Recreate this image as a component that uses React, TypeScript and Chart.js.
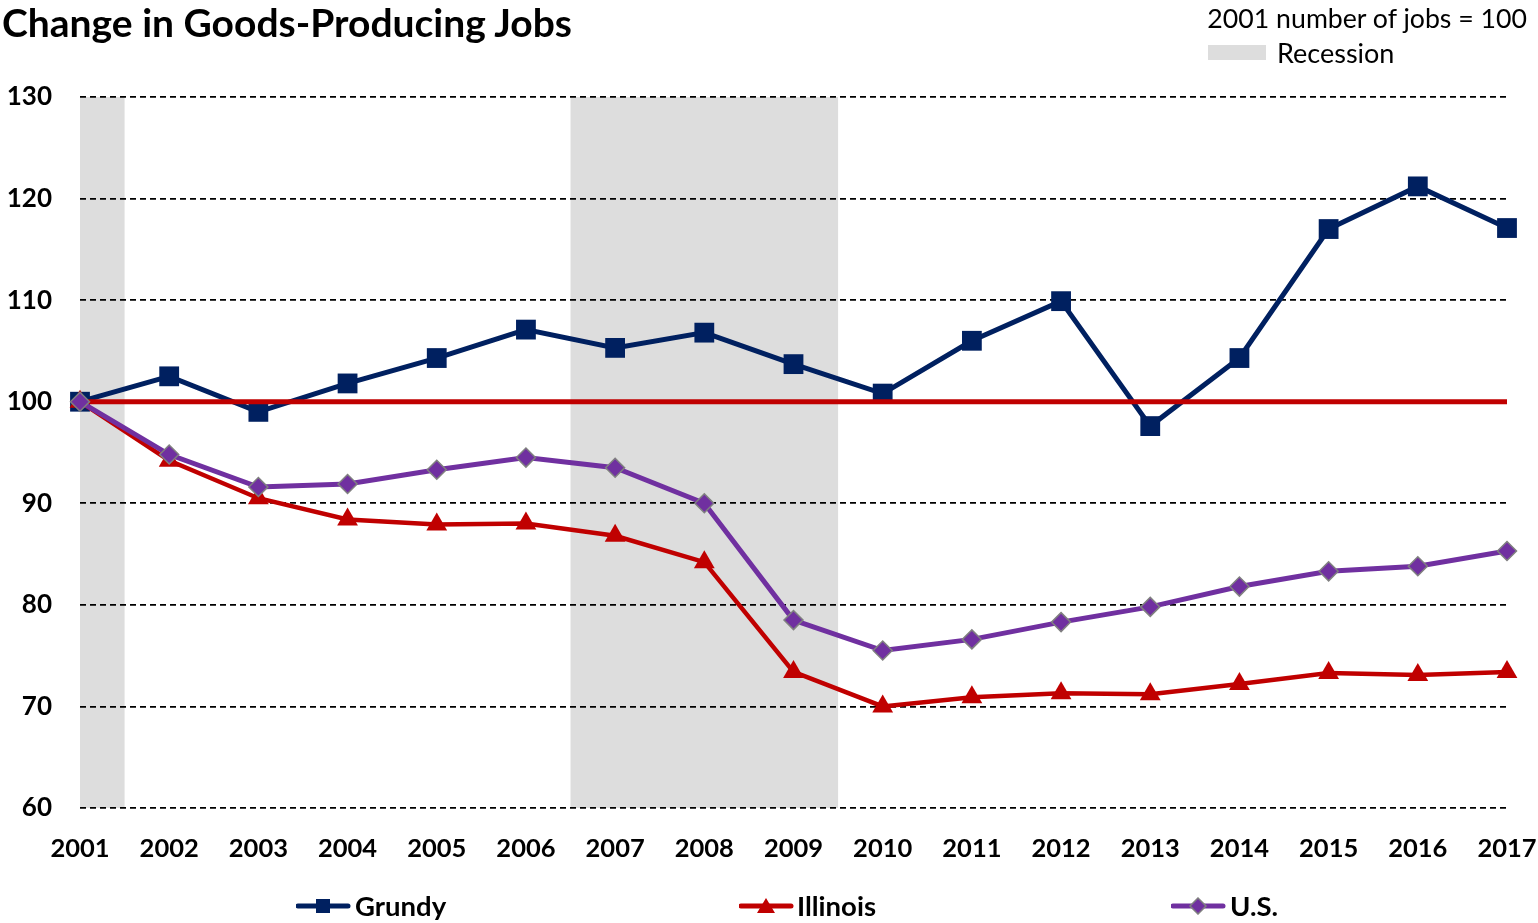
import React, { useEffect, useRef } from "react";
import { Chart, registerables } from "chart.js";

Chart.register(...registerables);

const years = ["2001","2002","2003","2004","2005","2006","2007","2008","2009","2010","2011","2012","2013","2014","2015","2016","2017"];
const grundy = [100, 102.5, 99.0, 101.8, 104.3, 107.1, 105.3, 106.8, 103.7, 100.8, 106.0, 109.9, 97.6, 104.3, 117.0, 121.2, 117.1];
const illinois = [100, 94.2, 90.5, 88.4, 87.9, 88.0, 86.8, 84.2, 73.4, 70.0, 70.9, 71.3, 71.2, 72.2, 73.3, 73.1, 73.4];
const us = [100, 94.8, 91.6, 91.9, 93.3, 94.5, 93.5, 90.0, 78.5, 75.5, 76.6, 78.3, 79.8, 81.8, 83.3, 83.8, 85.3];
const baseline = years.map(() => 100);
const recessions: [number, number][] = [[2001, 2001.5], [2006.5, 2009.5]];
const yMin = 60;
const yMax = 130;
const yStep = 10;

const FONT = "Lato, 'Noto Sans', sans-serif";
const NAVY = "#002060";
const RED = "#C00000";
const PURPLE = "#7030A0";

const recessionPlugin = {
  id: "recessionBands",
  beforeDraw(chart: any) {
    const { ctx, chartArea, scales } = chart;
    const x = scales.x;
    ctx.save();
    ctx.fillStyle = "#DDDDDD";
    for (const [a, b] of recessions) {
      const x0 = x.getPixelForValue(a - 2001);
      const x1 = x.getPixelForValue(b - 2001);
      ctx.fillRect(x0, chartArea.top, x1 - x0, chartArea.bottom - chartArea.top);
    }
    ctx.restore();
  },
};

function LegendItem({ left, color, marker, label, textLeft }: any) {
  let m: any = null;
  if (marker === "square") m = <rect x={20} y={2} width={14} height={14} fill={color} />;
  if (marker === "triangle") m = <polygon points="27,1 36,16 18,16" fill={color} />;
  if (marker === "diamond") m = <polygon points="27,1 35,9 27,17 19,9" fill={color} stroke="#808080" strokeWidth={1.5} />;
  return (
    <>
      <svg style={{ position: "absolute", left, top: 897 }} width={56} height={18}>
        <line x1={2} y1={9} x2={52} y2={9} stroke={color} strokeWidth={5} strokeLinecap="round" />
        {m}
      </svg>
      <div style={{ position: "absolute", left: textLeft, top: 889, fontFamily: FONT, fontWeight: 700, fontSize: 27.5, lineHeight: "34px", color: "#000" }}>{label}</div>
    </>
  );
}

export default function App() {
  const ref = useRef<HTMLCanvasElement>(null);
  useEffect(() => {
    const chart = new Chart(ref.current!, {
      type: "line",
      data: {
        labels: years,
        datasets: [
          { label: "U.S.", data: us, borderColor: PURPLE, borderWidth: 5, pointStyle: "rectRot", pointRadius: 9.5, pointBackgroundColor: PURPLE, pointBorderColor: "#808080", pointBorderWidth: 1.5, tension: 0 },
          { label: "Illinois", data: illinois, borderColor: RED, borderWidth: 4.5, pointStyle: "triangle", pointRadius: 12, pointBackgroundColor: RED, pointBorderColor: RED, pointBorderWidth: 0, tension: 0 },
          { label: "base", data: baseline, borderColor: RED, borderWidth: 5, pointRadius: 0, tension: 0 },
          { label: "Grundy", data: grundy, borderColor: NAVY, borderWidth: 5, pointStyle: "rect", pointRadius: 14, pointBackgroundColor: NAVY, pointBorderColor: NAVY, pointBorderWidth: 0, tension: 0 },
        ],
      },
      options: {
        animation: false,
        responsive: false,
        maintainAspectRatio: false,
        layout: { padding: { top: 97, right: 31, bottom: 0, left: 0 } },
        plugins: { legend: { display: false }, tooltip: { enabled: false }, title: { display: false } },
        scales: {
          x: {
            type: "category",
            offset: false,
            grid: { display: false, drawTicks: false },
            border: { display: false },
            ticks: { color: "#000", font: { family: FONT, weight: "bold", size: 25.5 }, padding: 25, maxRotation: 0, autoSkip: false },
            afterFit(scale: any) { scale.height = 115; scale.paddingRight = 0; scale.paddingLeft = 0; },
          },
          y: {
            min: yMin,
            max: yMax,
            grid: { color: "#000", lineWidth: 1.8, drawTicks: false },
            border: { display: false, dash: [6, 4] },
            ticks: { stepSize: yStep, color: "#000", font: { family: FONT, weight: "bold", size: 26 }, padding: 28 },
            afterFit(scale: any) { scale.width = 80; scale.paddingTop = 0; scale.paddingBottom = 0; },
          },
        },
      },
      plugins: [recessionPlugin],
    });
    return () => chart.destroy();
  }, []);

  return (
    <div style={{ position: "absolute", left: 0, top: 0, width: 1538, height: 923, background: "#fff", overflow: "hidden" }}>
      <canvas ref={ref} width={1538} height={923} style={{ position: "absolute", left: 0, top: 0 }} />
      <div style={{ position: "absolute", left: 2, top: -2, fontFamily: FONT, fontWeight: 700, fontSize: 39, lineHeight: "48px", color: "#000", whiteSpace: "nowrap" }}>Change in Goods-Producing Jobs</div>
      <div style={{ position: "absolute", right: 11, top: 2, fontFamily: FONT, fontSize: 26.7, lineHeight: "32px", color: "#000", whiteSpace: "nowrap" }}>2001 number of jobs = 100</div>
      <div style={{ position: "absolute", left: 1208, top: 45, width: 58, height: 15, background: "#DDDDDD" }} />
      <div style={{ position: "absolute", left: 1277, top: 37, fontFamily: FONT, fontSize: 27, lineHeight: "32px", color: "#000", whiteSpace: "nowrap" }}>Recession</div>
      <LegendItem left={296} color={NAVY} marker="square" label="Grundy" textLeft={355} />
      <LegendItem left={739} color={RED} marker="triangle" label="Illinois" textLeft={797} />
      <LegendItem left={1171} color={PURPLE} marker="diamond" label="U.S." textLeft={1230} />
    </div>
  );
}
